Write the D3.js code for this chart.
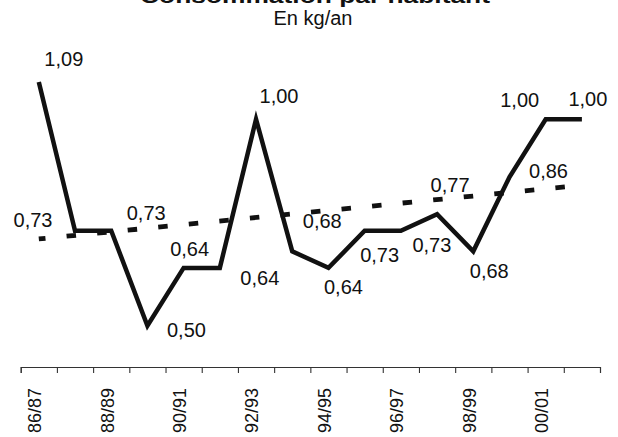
<!DOCTYPE html>
<html>
<head>
<meta charset="utf-8">
<script src="https://cdn.jsdelivr.net/npm/d3@7"></script>
<style>
  body { margin: 0; background: #fff; }
  text { font-family: "Liberation Sans", Arial, sans-serif; fill: #111; }
</style>
</head>
<body>
<div id="chart"></div>
<script>
// campaign years and yearly value (kg/an)
const years = ["86/87", "87/88", "88/89", "89/90", "90/91", "91/92", "92/93", "93/94",
               "94/95", "95/96", "96/97", "97/98", "98/99", "99/00", "00/01", "01/02"];
const values = [1.09, 0.73, 0.73, 0.50, 0.64, 0.64, 1.00, 0.68,
                0.64, 0.73, 0.73, 0.77, 0.68, 0.86, 1.00, 1.00];
// trend line, read at first and last year
const trendYears = ["86/87", "01/02"];
const trendValues = [0.71, 0.84];
const tickLabels = ["86/87", "88/89", "90/91", "92/93", "94/95", "96/97", "98/99", "00/01"];

// hand placed data labels, offset from their point (px)
const labelOffsets = [[25, -16], [-42, -4], [35, -11], [39, 11], [6, -12], [40, 17], [23, -16], [30, -23],
                      [15, 26], [15, 31], [31, 21], [13, -22], [16, 27], [39, 1], [-26, -12], [6, -13]];

const width = 618, height = 437;
const left = 20.7, right = 600, axisY = 367;

const svg = d3.select("#chart")
              .append("svg")
              .attr("width", width)
              .attr("height", height);

const x = d3.scaleBand()
            .domain(years)
            .range([left, right]);
const y = d3.scaleLinear()
            .domain([0.4, 1.2])
            .range([axisY, 36.6]);
const fmt = v => d3.format(".2f")(v).replace(".", ",");
const cx = d => x(d) + x.bandwidth() / 2;

// titles (main title sits mostly above the frame, as in the original)
svg.append("text")
   .attr("x", 315).attr("y", 3)
   .attr("text-anchor", "middle")
   .attr("textLength", 350)
   .attr("lengthAdjust", "spacingAndGlyphs")
   .style("font-size", "20px").style("font-weight", "bold")
   .text("Consommation par habitant");
svg.append("text")
   .attr("x", 313).attr("y", 25)
   .attr("text-anchor", "middle")
   .style("font-size", "20px")
   .text("En kg/an");

// x axis with ticks on band edges
const xIdx = d3.scaleLinear().domain([0, years.length]).range([left, right]);
const axis = svg.append("g")
                .attr("transform", `translate(0, ${axisY})`)
                .call(d3.axisBottom(xIdx)
                        .tickValues(d3.range(years.length + 1))
                        .tickSize(6)
                        .tickFormat(""));
axis.selectAll("path, line").attr("stroke", "#333").attr("stroke-width", 1.1);

svg.selectAll("text.tick-label")
   .data(tickLabels)
   .enter()
   .append("text")
   .attr("class", "tick-label")
   .attr("transform", d => `translate(${cx(d) - 4}, 388) rotate(-90)`)
   .attr("text-anchor", "end")
   .attr("dy", "0.35em")
   .style("font-size", "18px")
   .text(d => d);

// trend
const line = d3.line()
               .x(d => cx(d[0]))
               .y(d => y(d[1]));

svg.append("path")
   .datum(trendYears.map((t, i) => [t, trendValues[i]]))
   .attr("d", line)
   .attr("fill", "none")
   .attr("stroke", "#111")
   .attr("stroke-width", 4.8)
   .attr("stroke-dasharray", "9.5 21.2")
   .attr("stroke-dashoffset", 2.8);

// yearly values
svg.append("path")
   .datum(years.map((t, i) => [t, values[i]]))
   .attr("d", line)
   .attr("fill", "none")
   .attr("stroke", "#111")
   .attr("stroke-width", 4.5)
   .attr("stroke-linejoin", "miter");

svg.selectAll("text.value")
   .data(values)
   .enter()
   .append("text")
   .attr("class", "value")
   .attr("x", (d, i) => cx(years[i]) + labelOffsets[i][0])
   .attr("y", (d, i) => y(d) + labelOffsets[i][1])
   .attr("text-anchor", "middle")
   .style("font-size", "20px")
   .text(d => fmt(d));
</script>
</body>
</html>
